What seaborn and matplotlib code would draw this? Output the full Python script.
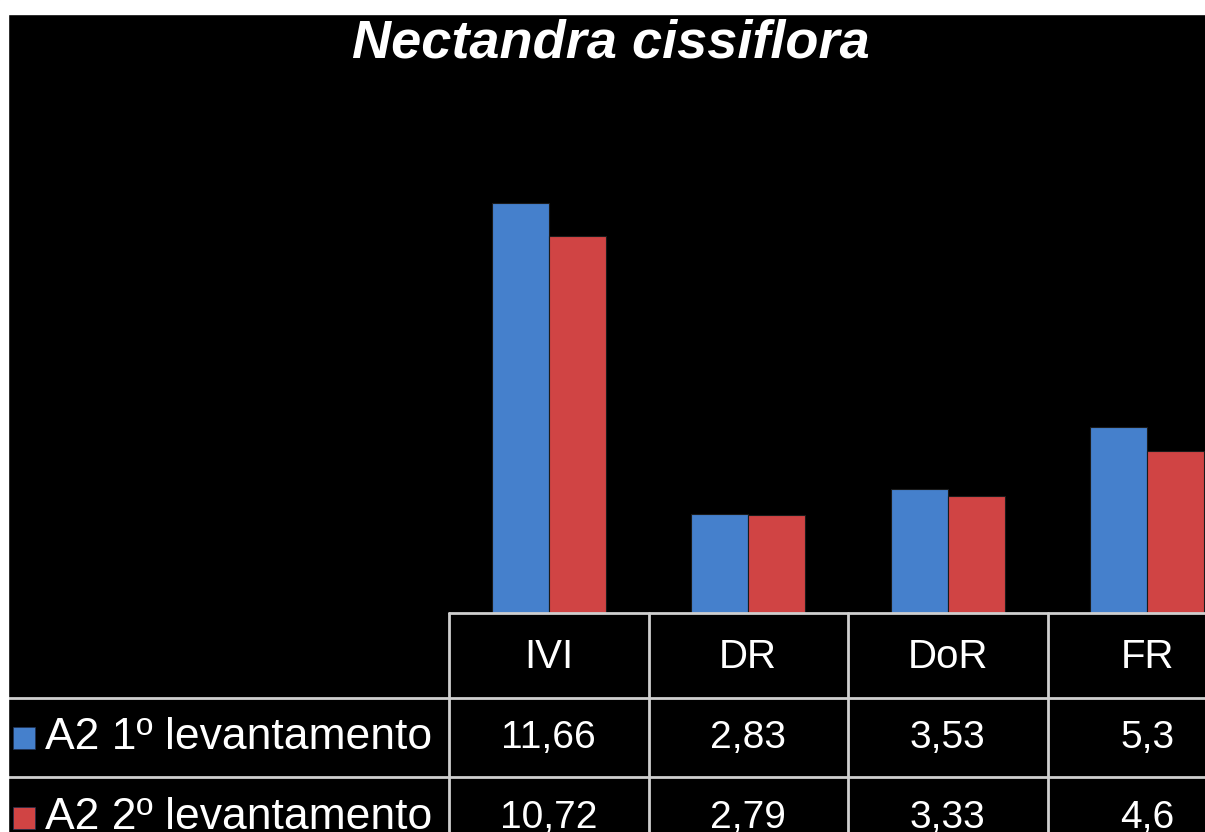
import pandas as pd
import matplotlib.pyplot as plt
import seaborn as sns
from matplotlib.patches import Rectangle

# Data
categories = ['IVI', 'DR', 'DoR', 'FR']
series_names = ['A2 1º levantamento', 'A2 2º levantamento']
lev1 = [11.66, 2.83, 3.53, 5.3]
lev2 = [10.72, 2.79, 3.33, 4.6]
colors = ['#4580CC', '#D04444']

df = pd.DataFrame({
    'indice': categories * 2,
    'valor': lev1 + lev2,
    'levantamento': [series_names[0]] * 4 + [series_names[1]] * 4,
})

sns.set_style("dark")
plt.rcParams['font.family'] = ['Liberation Sans', 'DejaVu Sans']

W, H = 1205, 832
fig = plt.figure(figsize=(12.05, 8.32), dpi=100, facecolor='black')

# bar area (cropped on the right like the original)
ax = fig.add_axes([449 / W, (H - 613) / H, 798 / W, 553 / H])
ax.set_facecolor('black')
sns.barplot(data=df, x='indice', y='valor', hue='levantamento', palette=colors,
            width=0.57, saturation=1, legend=False, ax=ax,
            edgecolor='#1a1a1a', linewidth=0.8)
ax.set_xlim(-0.5, len(categories) - 0.5)
ax.set_ylim(0, 15.73)
ax.set_xticks([])
ax.set_yticks([])
ax.set_xlabel('')
ax.set_ylabel('')
for s in ax.spines.values():
    s.set_visible(False)

# data table under the bars
tab = fig.add_axes([449 / W, (H - 857) / H, 798 / W, 244 / H])
tab.set_facecolor('none')
tab.set_xlim(-0.5, len(categories) - 0.5)
tab.set_ylim(857, 613)
tab.axis('off')

px = 199.5
left_x = -0.5 - (449 - 8) / px
line_kw = dict(color='#cfcfcf', lw=2, clip_on=False)
tab.plot([-0.5, 3.8], [613, 613], **line_kw)
for y in [698, 777]:
    tab.plot([left_x, 3.8], [y, y], **line_kw)
for i in range(len(categories)):
    tab.plot([i - 0.5, i - 0.5], [613, 860], **line_kw)

for i, cat in enumerate(categories):
    tab.text(i, 657, cat, color='white', fontsize=29, ha='center', va='center')
    tab.text(i, 738, f"{lev1[i]}".replace('.', ','), color='white',
             fontsize=28, ha='center', va='center')
    tab.text(i, 818, f"{lev2[i]}".replace('.', ','), color='white',
             fontsize=28, ha='center', va='center', clip_on=False)

for name, col, y in zip(series_names, colors, [738, 818]):
    tab.plot([left_x + 16 / px], [y], marker='s', ms=16, color=col,
             mec='#203050', mew=0.5, clip_on=False)
    tab.text(left_x + 37 / px, y, name, color='white', fontsize=32,
             ha='left', va='center', clip_on=False)

fig.text(611 / W, (H - 58) / H, 'Nectandra cissiflora', color='white',
         fontsize=39, fontweight='bold', fontstyle='italic',
         ha='center', va='baseline')

# white frame strips at top and left
fig.add_artist(Rectangle((0, (H - 14) / H), 1, 14 / H, transform=fig.transFigure,
                         color='white', zorder=20))
fig.add_artist(Rectangle((0, 0), 8 / W, 1, transform=fig.transFigure,
                         color='white', zorder=20))

fig.savefig('out.png', dpi=100, facecolor='black')
